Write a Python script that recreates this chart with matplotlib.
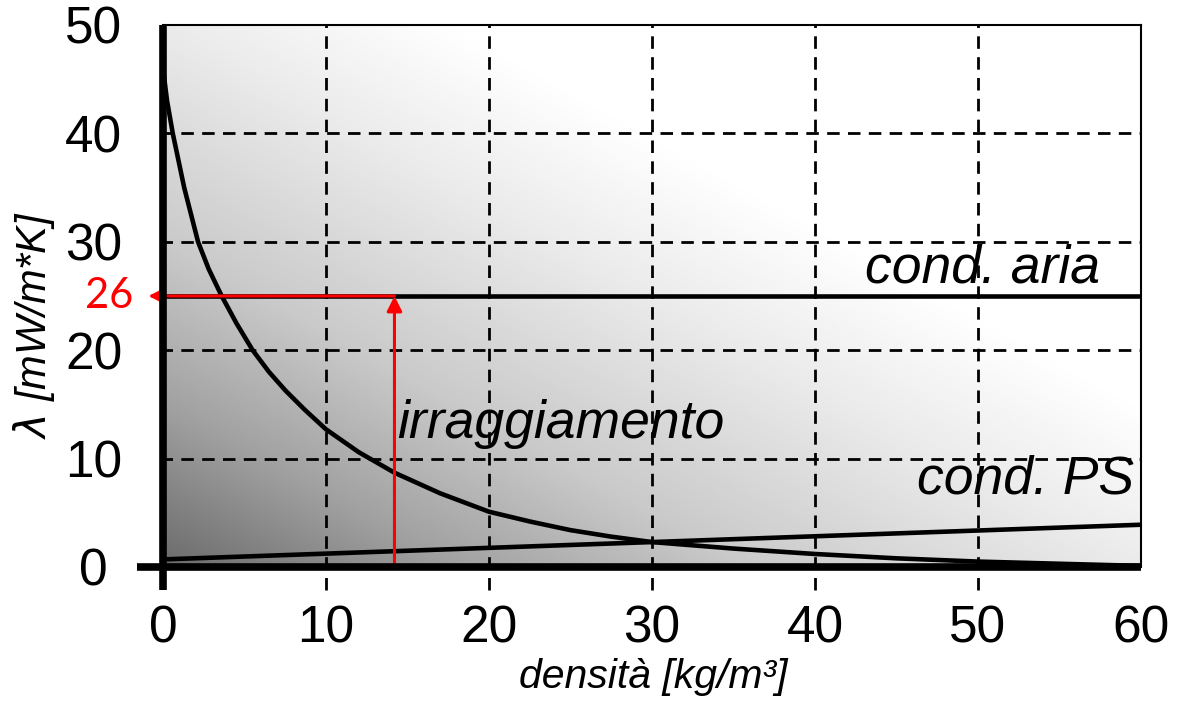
import numpy as np
import matplotlib
matplotlib.use("Agg")
import matplotlib.pyplot as plt

plt.rcParams['font.family'] = ['Liberation Sans', 'DejaVu Sans']

# data
dens_irr = [0, 0.25, 0.6, 1.3, 2.15, 2.8, 3.6, 4.5, 5.5, 6.5, 7.5, 8.7, 10, 12, 14.2, 17,
            20, 22.5, 25, 27.5, 30, 32.5, 35, 37.5, 40, 45, 50, 55, 60]
lam_irr = [46, 43, 40, 35, 30, 27.5, 25, 22.5, 20, 18, 16.3, 14.5, 12.7, 10.6, 8.7, 6.8,
           5.1, 4.2, 3.4, 2.8, 2.3, 2.0, 1.7, 1.45, 1.2, 0.8, 0.5, 0.3, 0.1]
dens_ps = [0, 60]
lam_ps = [0.7, 3.9]
lam_aria = 25
dens_mark = 14.2
mark_label = "26"
xticks = [0, 10, 20, 30, 40, 50, 60]
yticks = [0, 10, 20, 30, 40, 50]

fig = plt.figure(figsize=(11.84, 7.01), dpi=100)
ax = fig.add_axes([163/1184, 1 - 567/701, (1141-163)/1184, (567-25)/701])
ax.set_xlim(0, 60)
ax.set_ylim(0, 50)

# grey background gradient (dark bottom-left to white top-right)
nx, ny = np.meshgrid(np.linspace(0, 1, 300), np.linspace(0, 1, 300))
t = 0.5 * (nx + ny)
shade = np.interp(t, [0, 0.15, 0.3, 0.5, 0.65, 1], [0.42, 0.63, 0.79, 0.92, 1, 1])
ax.imshow(shade, extent=[0, 60, 0, 50], origin='lower', aspect='auto',
          cmap='gray', vmin=0, vmax=1, zorder=0, interpolation='bilinear')

# dashed grid, x lines run a bit below the axis
for xv in xticks[1:-1]:
    ax.plot([xv, xv], [-2.1, 50], color='black', lw=2, ls=(0, (4.5, 3)),
            clip_on=False, zorder=1)
for yv in yticks[1:-1]:
    ax.plot([-0.2, 60], [yv, yv], color='black', lw=2, ls=(0, (4.5, 3)),
            clip_on=False, zorder=1)

# curves
ax.plot(dens_irr, lam_irr, color='black', lw=3.3, zorder=3, solid_capstyle='butt',
        solid_joinstyle='round')
ax.plot(dens_ps, lam_ps, color='black', lw=3.3, zorder=3, solid_capstyle='butt')
ax.plot([0, 60], [lam_aria, lam_aria], color='black', lw=3.3, zorder=3, solid_capstyle='butt')

# red arrows
ax.annotate('', xy=(dens_mark, lam_aria), xytext=(dens_mark, 0),
            arrowprops=dict(arrowstyle='-|>,head_length=0.9,head_width=0.45',
                            color='red', lw=2.2, shrinkA=0, shrinkB=0), zorder=4)
ax.annotate('', xy=(-0.9, lam_aria), xytext=(dens_mark, lam_aria),
            arrowprops=dict(arrowstyle='-|>,head_length=0.9,head_width=0.45',
                            color='red', lw=2.2, shrinkA=0, shrinkB=0),
            annotation_clip=False, zorder=4)
ax.text(-1.84, lam_aria, mark_label, color='red', fontsize=30, family=['Lato', 'DejaVu Sans'],
        ha='right', va='center', clip_on=False)

# labels on the curves
ax.text(57.5, 26.2, 'cond. aria', fontsize=38.5, style='italic', ha='right', va='baseline', zorder=5)
ax.text(14.35, 11.9, 'irraggiamento', fontsize=38.5, style='italic', ha='left', va='baseline', zorder=5)
ax.text(59.6, 6.8, 'cond. PS', fontsize=38.5, style='italic', ha='right', va='baseline', zorder=5)

# spines
for s in ['left', 'bottom']:
    ax.spines[s].set_visible(False)
ax.spines['top'].set_linewidth(1.5)
ax.spines['right'].set_linewidth(1.5)
ax.plot([0, 0], [-2.1, 50], color='black', lw=5.5, clip_on=False, zorder=6, solid_capstyle='butt')
ax.plot([-1.6, 60], [0, 0], color='black', lw=5.5, clip_on=False, zorder=6, solid_capstyle='butt')

ax.set_xticks(xticks)
ax.set_yticks(yticks)
ax.tick_params(axis='x', length=0, pad=27, labelsize=37)
ax.tick_params(axis='y', length=0, pad=50, labelsize=37)
for lab in ax.get_yticklabels():
    lab.set_horizontalalignment('center')

fig.text(653/1184, 1 - 688/701, 'densità [kg/m³]', fontsize=29.5, style='italic',
         ha='center', va='baseline')
ax.set_ylabel('$\\lambda$ [mW/m*K]', fontsize=30, style='italic')
ax.yaxis.set_label_coords(-0.108, 0.446)

fig.savefig('out.png', dpi=100)
